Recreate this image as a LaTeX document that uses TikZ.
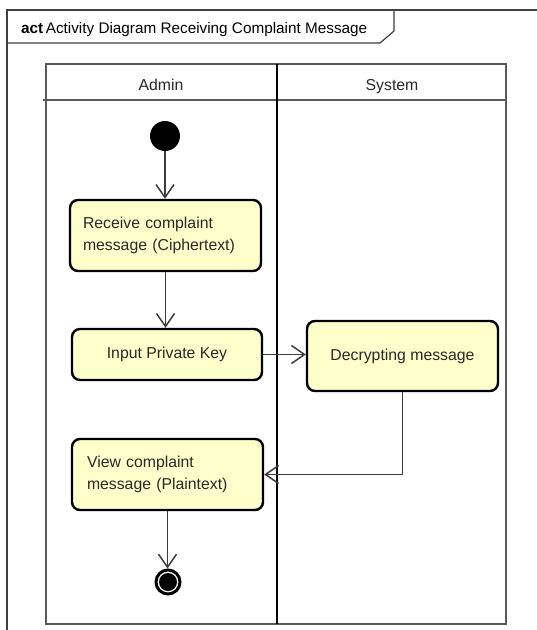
\documentclass[tikz,border=0pt]{standalone}
\usepackage{fontspec}
\setmainfont{Liberation Sans}
\usetikzlibrary{arrows.meta}
\definecolor{actfill}{RGB}{255,255,204}
\definecolor{edgegray}{RGB}{60,60,60}
\definecolor{txtgray}{RGB}{40,40,40}
\begin{document}
\begin{tikzpicture}[x=1pt,y=-1pt,
  actbox/.style={draw=black, line width=2.4pt, fill=actfill, rounded corners=8pt,
    font=\fontsize{15.8}{21.5}\selectfont, text=txtgray},
  flow/.style={draw=edgegray, line width=1.5pt,
    -{Straight Barb[length=13pt,width=18pt,line width=1.5pt]}},
  lbl/.style={font=\fontsize{15.8}{18}\selectfont, inner sep=0pt, text=txtgray}
]
\useasboundingbox (0,0) rectangle (537,630);
\fill[white] (0,0) rectangle (537,630);
% frame
\draw[line width=1.2pt, draw=black!75] (7,640) -- (7,10) -- (545,10);
\draw[line width=1.2pt, draw=black!75] (7,43) -- (380,43) -- (394,31) -- (394,10);
\node[lbl, anchor=base west, text=black, font=\fontsize{15.3}{18}\selectfont] (title) at (21,33) {\textbf{act}\hspace{2.5pt}Activity Diagram Receiving Complaint Message};
% swimlanes
\draw[line width=1.2pt, draw=black!65] (46,64) rectangle (506,624);
\draw[line width=1.2pt, draw=black!65] (43,100) -- (505,100);
\draw[line width=2pt] (277,64) -- (277,624);
\node[lbl, anchor=base] (admin) at (161,90.7) {Admin};
\node[lbl, anchor=base] (system) at (392,90.7) {System};
% nodes
\node[circle, fill=black, minimum size=30pt, inner sep=0pt] (start) at (165,136) {};
\node[actbox, minimum width=191pt, minimum height=71pt, text width=165pt, align=left, inner xsep=13pt] (recv) at (165.5,235.5) {Receive complaint\\message (Ciphertext)};
\node[actbox, minimum width=190pt, minimum height=51pt] (input) at (167,354.5) {Input Private Key};
\node[actbox, minimum width=191pt, minimum height=70pt] (decr) at (402.5,356) {Decrypting message};
\node[actbox, minimum width=191pt, minimum height=71pt, text width=161pt, align=left, inner xsep=15pt] (view) at (167.5,474.5) {View complaint\\message (Plaintext)};
\node[circle, draw=black, line width=3pt, fill=white, minimum size=24pt, inner sep=0pt] (final) at (168,582) {};
\fill[black] (final.center) circle (9pt);
% edges
\draw[flow] (start) -- (start |- recv.north);
\draw[flow] (recv) -- (recv |- input.north);
\draw[flow] (input.east) -- (input.east -| decr.west);
\draw[flow] (decr.south) |- (view.east);
\draw[flow] (view) -- (view |- final.north);
\end{tikzpicture}
\end{document}
